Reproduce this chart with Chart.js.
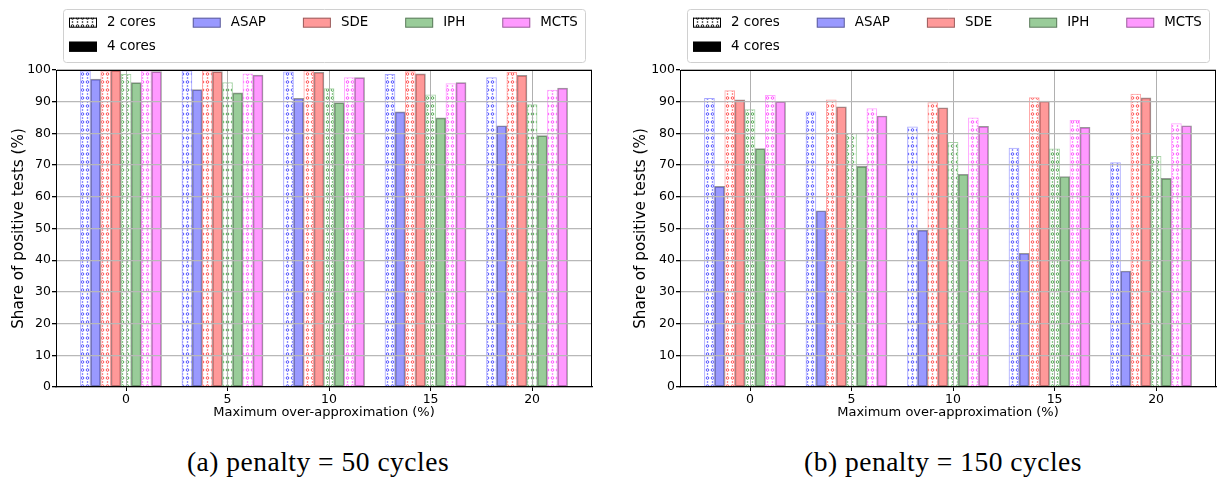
<!DOCTYPE html>
<html>
<head>
<meta charset="utf-8">
<script src="https://cdn.jsdelivr.net/npm/chart.js@4.4.1/dist/chart.umd.min.js"></script>
<style>
    body { margin: 0; background: #fff; width: 1217px; height: 479px; position: relative; overflow: hidden; }
    canvas { position: absolute; top: 0; }
    .caption { position: absolute; top: 446px; font-family: "Liberation Serif", serif; font-size: 27.5px; color: #000;
               letter-spacing: 0.5px; transform: translateX(-50%); white-space: nowrap; }
</style>
</head>
<body>
<canvas id="chart50" width="610" height="430" style="left:0px"></canvas>
<canvas id="chart150" width="597" height="430" style="left:620px"></canvas>
<div class="caption" style="left:318px">(a) penalty = 50 cycles</div>
<div class="caption" style="left:943px">(b) penalty = 150 cycles</div>

<script>
// data
const overApprox = [0, 5, 10, 15, 20];
const algorithms = ['ASAP', 'SDE', 'IPH', 'MCTS'];
const coreLabels = ['2 cores', '4 cores'];
const yTicks = [0, 10, 20, 30, 40, 50, 60, 70, 80, 90, 100];

// penalty = 50 cycles
const asap2_50 = [99.7, 99.7, 99.4, 98.6, 97.6];
const asap4_50 = [97.1, 93.8, 91.1, 86.8, 82.4];
const sde2_50  = [99.7, 99.7, 99.7, 99.5, 99.3];
const sde4_50  = [99.9, 99.5, 99.3, 98.8, 98.3];
const iph2_50  = [98.6, 96.0, 94.1, 92.2, 89.1];
const iph4_50  = [96.0, 92.8, 89.7, 84.9, 79.3];
const mcts2_50 = [99.7, 98.8, 97.6, 95.7, 93.7];
const mcts4_50 = [99.5, 98.4, 97.6, 96.0, 94.3];

// penalty = 150 cycles
const asap2_150 = [91.1, 86.8, 82.1, 75.4, 70.8];
const asap4_150 = [63.3, 55.6, 49.5, 42.2, 36.6];
const sde2_150  = [93.5, 90.6, 89.7, 91.3, 92.4];
const sde4_150  = [90.6, 88.4, 88.1, 90.2, 91.2];
const iph2_150  = [87.5, 80.0, 77.2, 75.1, 72.8];
const iph4_150  = [75.2, 69.6, 67.1, 66.4, 65.8];
const mcts2_150 = [92.0, 87.8, 84.9, 84.1, 83.1];
const mcts4_150 = [90.0, 85.5, 82.2, 81.9, 82.4];

const algoRgb = ['0,0,255', '255,0,0', '0,128,0', '255,0,255'];
const BAR_W = 0.5;
const X_MIN = -3.45, X_MAX = 22.95;
const FONT = 'DejaVu Sans';

// ring/dot hatch (matplotlib 'o' look)
function makeHatch(rgb, alpha) {
    const c = document.createElement('canvas');
    c.width = 5; c.height = 8;
    const g = c.getContext('2d');
    g.fillStyle = '#fff';
    g.fillRect(0, 0, 5, 8);
    g.strokeStyle = `rgba(${rgb},${alpha})`;
    g.fillStyle = `rgba(${rgb},${alpha})`;
    g.lineWidth = 0.9;
    g.beginPath(); g.arc(2.5, 2, 1.3, 0, Math.PI * 2); g.stroke();
    g.beginPath(); g.arc(2.5, 6, 0.8, 0, Math.PI * 2); g.fill();
    return g.createPattern(c, 'repeat');
}

function buildDatasets(series) {
    const sets = [];
    series.forEach((pair, k) => {
        pair.forEach((vals, c) => {
            const idx = 2 * k + c;
            sets.push({
                label: algorithms[k] + ' ' + coreLabels[c],
                data: overApprox.map((g, i) => ({ x: g - 2 + BAR_W * idx, y: vals[i] })),
                backgroundColor: c === 0 ? makeHatch(algoRgb[k], 0.7) : `rgba(${algoRgb[k]},0.4)`,
                borderColor: c === 0 ? `rgba(${algoRgb[k]},0.35)` : 'rgba(0,0,0,0.4)',
                borderWidth: 1,
                borderSkipped: false,
                barThickness: 10,
                grouped: false
            });
        });
    });
    return sets;
}

// legend box + spines on top/right
const figurePlugin = {
    id: 'figureExtras',
    afterDraw(chart) {
        const ctx = chart.ctx;
        const a = chart.chartArea;
        ctx.save();
        ctx.strokeStyle = '#000';
        ctx.lineWidth = 1;
        ctx.beginPath();
        ctx.moveTo(a.left, a.top + 0.5); ctx.lineTo(a.right, a.top + 0.5);
        ctx.moveTo(a.right - 0.5, a.top); ctx.lineTo(a.right - 0.5, a.bottom);
        ctx.stroke();

        // legend
        const bx = a.left + 7, by = 9.5, bw = (a.right - 7) - bx, bh = 53;
        ctx.fillStyle = 'rgba(255,255,255,0.8)';
        ctx.strokeStyle = '#d0d0d0';
        ctx.beginPath();
        ctx.roundRect(bx + 0.5, by, bw, bh, 3);
        ctx.fill(); ctx.stroke();

        ctx.font = '13.4px ' + FONT;
        ctx.textBaseline = 'middle';
        ctx.fillStyle = '#000';
        const rows = [22.7, 46.7];
        const columns = [coreLabels].concat(algorithms.map(n => [n]));
        let x = bx + 6;
        columns.forEach((col, ci) => {
            let maxW = 0;
            col.forEach((txt, ri) => {
                const y = rows[ri];
                let fill, stroke;
                if (ci === 0) {
                    fill = ri === 0 ? makeHatch('0,0,0', 1) : '#000';
                    stroke = '#000';
                } else {
                    fill = `rgba(${algoRgb[ci - 1]},0.4)`;
                    stroke = 'rgba(0,0,0,0.4)';
                }
                ctx.fillStyle = fill;
                ctx.fillRect(x, y - 5, 28, 10);
                ctx.strokeStyle = stroke;
                ctx.strokeRect(x + 0.5, y - 4.5, 27, 9);
                ctx.fillStyle = '#000';
                ctx.fillText(txt, x + 38, y);
                maxW = Math.max(maxW, ctx.measureText(txt).width);
            });
            x += 38 + maxW + 37;
        });
        ctx.restore();
    }
};

function renderChart(id, series, axisWidth, rightPad, titleX) {
    const ctx = document.getElementById(id).getContext('2d');
    return new Chart(ctx, {
        type: 'bar',
        data: { datasets: buildDatasets(series) },
        options: {
            responsive: false,
            animation: false,
            devicePixelRatio: 1,
            layout: { padding: { top: 70, right: rightPad, left: 0, bottom: 0 } },
            scales: {
                x: {
                    type: 'linear',
                    min: X_MIN,
                    max: X_MAX,
                    offset: false,
                    afterBuildTicks: s => { s.ticks = overApprox.map(v => ({ value: v })); },
                    afterFit: s => { s.height = 43; },
                    grid: { z: 1, offset: false, color: '#b0b0b0', lineWidth: 1, tickColor: '#000', tickLength: 4 },
                    border: { z: 2, color: '#000', width: 1.2 },
                    ticks: { color: '#000', font: { family: FONT, size: 12.5 }, padding: 1.5, maxRotation: 0,
                             callback: v => String(v) },
                    title: { display: true, text: 'Maximum over-approximation (%)', color: '#000',
                             font: { family: FONT, size: 13 }, padding: { top: 0, bottom: 10 } }
                },
                y: {
                    min: 0,
                    max: 100,
                    afterBuildTicks: s => { s.ticks = yTicks.map(v => ({ value: v })); },
                    afterFit: s => { s.width = axisWidth; },
                    grid: { z: 1, color: '#b8b8b8', lineWidth: 1.3, tickColor: '#000', tickLength: 4 },
                    border: { z: 2, color: '#000', width: 1 },
                    ticks: { color: '#000', font: { family: FONT, size: 12.5 }, padding: 1 },
                    title: { display: true, text: 'Share of positive tests (%)', color: '#000',
                             font: { family: FONT, size: 15.2 }, padding: { top: titleX - 9.1, bottom: 0 } }
                }
            },
            plugins: {
                legend: { display: false },
                tooltip: { enabled: false }
            }
        },
        plugins: [figurePlugin]
    });
}

document.addEventListener('DOMContentLoaded', () => {
    renderChart('chart50', [
        [asap2_50, asap4_50], [sde2_50, sde4_50], [iph2_50, iph4_50], [mcts2_50, mcts4_50]
    ], 56, 18, 19);
    renderChart('chart150', [
        [asap2_150, asap4_150], [sde2_150, sde4_150], [iph2_150, iph4_150], [mcts2_150, mcts4_150]
    ], 60, 1, 21);
});
</script>
</body>
</html>
